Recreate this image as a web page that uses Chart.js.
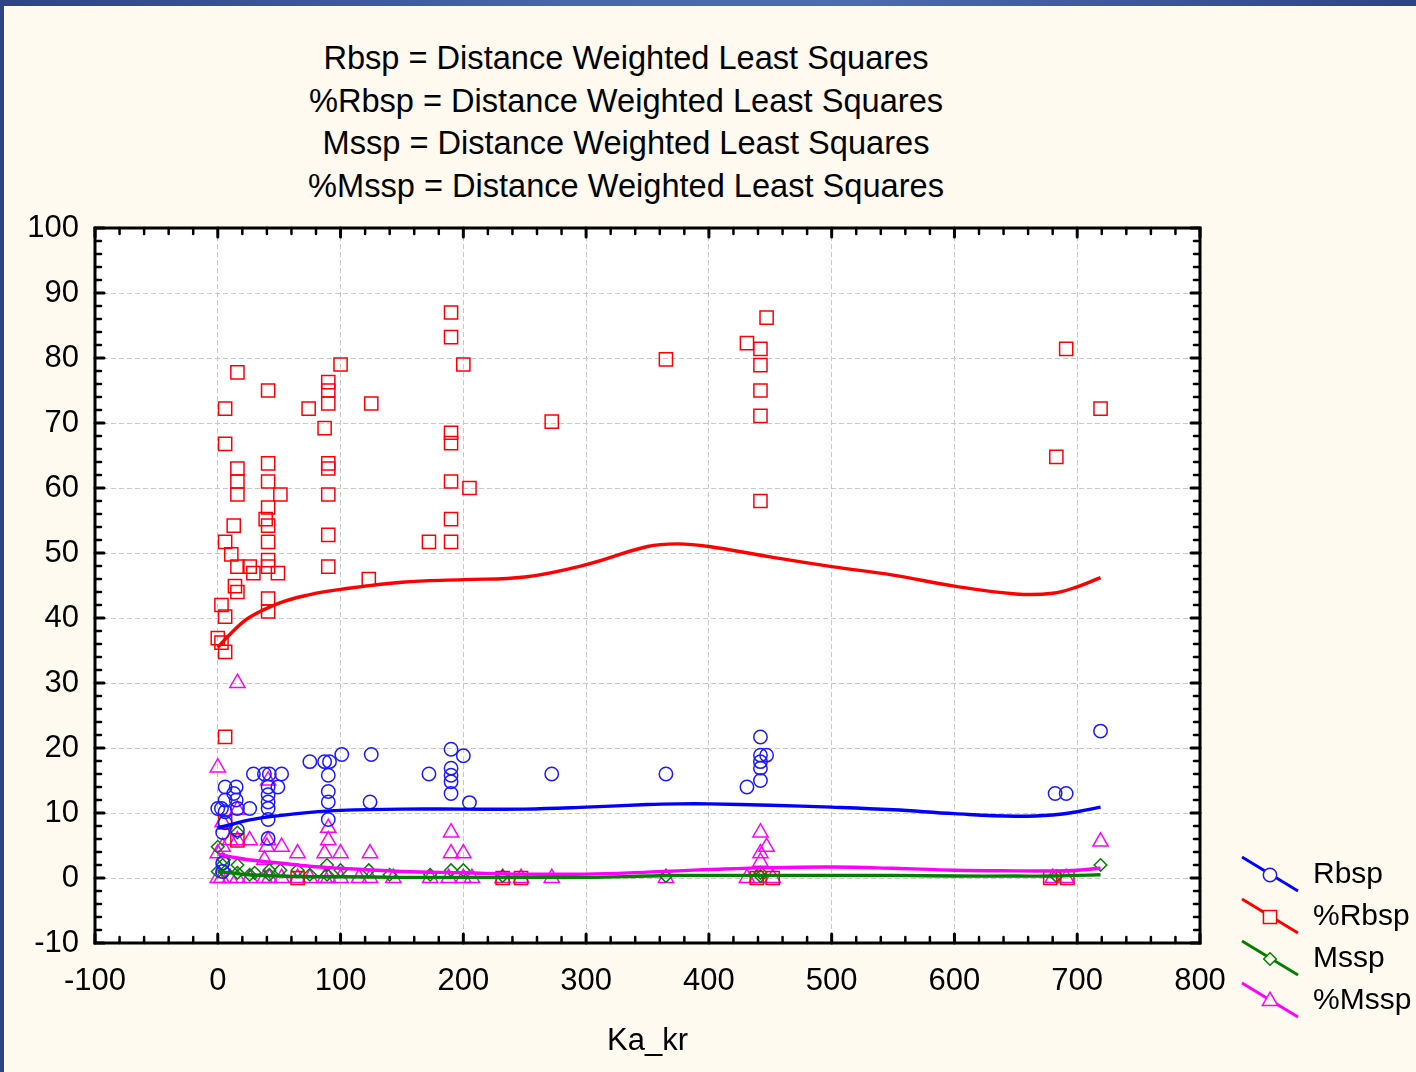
<!DOCTYPE html>
<html>
<head>
<meta charset="utf-8">
<script src="https://cdn.jsdelivr.net/npm/chart.js@4.4.0/dist/chart.umd.min.js"></script>
<style>
  html, body { margin: 0; padding: 0; }
  body {
    width: 1416px; height: 1072px; overflow: hidden; position: relative;
    background: linear-gradient(90deg, #2d4484 0%, #4866ac 40%, #4d6bb0 60%, #2d4484 100%);
    font-family: "Liberation Sans", Arial, sans-serif;
  }
  #panel { position: absolute; left: 4px; top: 6px; right: 0; bottom: 0; background: #fffaf0; }
  #titles {
    position: absolute; left: 0; top: 37px; width: 1252px;
    text-align: center; font-size: 32.6px; line-height: 42.6px; color: #000;
  }
  #chart { position: absolute; left: 0; top: 0; }
</style>
</head>
<body>
<div id="panel"></div>
<div id="titles">
  <div>Rbsp = Distance Weighted Least Squares</div>
  <div>%Rbsp = Distance Weighted Least Squares</div>
  <div>Mssp = Distance Weighted Least Squares</div>
  <div>%Mssp = Distance Weighted Least Squares</div>
</div>
<canvas id="chart" width="1416" height="1072"></canvas>
<script>
// --- axis ticks ---
const X_TICKS = [-100, 0, 100, 200, 300, 400, 500, 600, 700, 800];
const Y_TICKS = [-10, 0, 10, 20, 30, 40, 50, 60, 70, 80, 90, 100];

// --- raw points (Ka_kr, value) ---
const rbspX = [0, 3, 6, 6, 6, 15, 13, 15, 16, 26, 4, 6, 16, 4, 4, 29, 38, 42, 52, 41, 49, 41, 41, 41, 41, 41,
  75, 87, 91, 101, 90, 90, 90, 90, 124, 125, 172, 190, 200, 190, 190, 190, 190, 205, 272, 365,
  442, 442, 447, 442, 442, 442, 431, 719, 682, 691];
const rbspY = [10.7, 10.7, 14, 12, 10.2, 14, 13, 12, 10.7, 10.7, 7, 8.5, 7.4, 2.3, 1, 16, 16, 16, 16, 14, 14, 12.8, 11.7, 10.7, 9, 6.1,
  17.9, 17.9, 17.9, 19, 15.8, 13.3, 11.7, 9, 11.7, 19, 16, 19.8, 18.8, 16.9, 15.8, 14.8, 13, 11.6, 16, 16,
  21.7, 18.9, 18.9, 17.9, 16.9, 15, 14, 22.6, 13, 13];

const pctRbspX = [16, 100, 41, 90, 90, 90, 6, 74, 87, 6, 41, 90, 90, 16, 16, 16, 41, 51, 41, 90,
  13, 39, 41, 6, 41, 90, 11, 16, 26, 29, 41, 41, 49, 90, 14, 16, 41, 41, 3, 6, 0, 3, 6, 123, 125,
  190, 190, 200, 190, 190, 190, 205, 190, 172, 190, 272, 365, 431, 442, 447, 442, 442, 442, 442,
  691, 719, 683, 6, 6, 16, 65, 232, 247, 439, 452, 678, 692];
const pctRbspY = [77.8, 79, 75, 76.3, 75, 73, 72.2, 72.2, 69.2, 66.8, 63.8, 63.8, 63, 63, 61, 59, 61, 59, 57, 59,
  54.2, 55.2, 54.2, 51.7, 51.7, 52.8, 49.8, 47.9, 47.9, 46.9, 48.9, 47.9, 46.9, 47.9, 44.9, 44, 43, 41, 42, 40.2, 36.9, 36.2, 34.8, 46, 73,
  87, 83.2, 79, 68.5, 66.9, 61, 60, 55.2, 51.7, 51.7, 70.2, 79.8, 82.3, 81.4, 86.2, 78.9, 75, 71.1, 58,
  81.4, 72.2, 64.8, 21.7, 8.6, 5.8, 0, 0, 0, 0, 0, 0, 0];

const msspX = [0, 5, 16, 4, 16, 30, 42, 51, 65, 89, 100, 123, 190, 200, 442, 719,
  0, 6, 16, 26, 42, 75, 89, 140, 173, 232, 365, 442, 683];
const msspY = [4.8, 2.8, 7, 2, 2, 0.8, 1.2, 1.2, 1.2, 2, 1.2, 1.2, 1.2, 1.2, 0.8, 2,
  1, 1, 0.8, 0.5, 0.5, 0.5, 0.5, 0.5, 0.5, 0.3, 0.3, 0.3, 0.3];

const pctMsspX = [0, 16, 41, 16, 4, 10, 16, 26, 41, 52, 65, 90, 90, 87, 100, 124, 40, 38, 0, 4,
  190, 190, 200, 442, 447, 442, 442, 719,
  0, 3, 10, 16, 26, 38, 42, 52, 65, 75, 87, 90, 100, 115, 124, 143, 173, 188, 200, 207, 232, 247,
  272, 365, 431, 439, 452, 680, 691];
const pctMsspY = [17, 30, 15, 10.5, 8.6, 5.8, 5.8, 5.8, 5.8, 4.8, 3.8, 7.7, 5.8, 3.8, 3.8, 3.8, 4.8, 2.8, 3.8, 4.8,
  7, 3.8, 3.8, 7, 4.8, 3.8, 2.5, 5.6,
  0, 0, 0, 0, 0, 0, 0, 0, 0, 0, 0, 0, 0, 0, 0, 0, 0, 0, 0, 0, 0, 0,
  0, 0, 0, 0, 0, 0, 0];

// --- distance weighted least squares fits ---
const fitX = [0, 10, 25, 50, 75, 100, 150, 200, 250, 300, 350, 375, 400, 450, 500, 550, 600, 650, 680, 700, 719];
const rbspFit = [7.7, 8.2, 8.9, 9.6, 10.1, 10.4, 10.6, 10.6, 10.6, 10.9, 11.3, 11.4, 11.4, 11.2, 10.9, 10.5, 9.9, 9.5, 9.7, 10.2, 10.9];
const pctRbspFit = [35.5, 37.5, 40, 42.3, 43.6, 44.4, 45.5, 45.9, 46.3, 48.2, 51.0, 51.4, 51.0, 49.4, 47.9, 46.6, 44.9, 43.7, 43.8, 44.8, 46.2];
const msspFit = [1.0, 0.8, 0.5, 0.3, 0.2, 0.2, 0.1, 0.1, 0.1, 0.1, 0.3, 0.4, 0.4, 0.4, 0.4, 0.4, 0.3, 0.3, 0.3, 0.4, 0.5];
const pctMsspFit = [3.7, 3.3, 2.8, 2.3, 1.8, 1.5, 1.0, 0.8, 0.6, 0.6, 0.9, 1.1, 1.3, 1.6, 1.7, 1.5, 1.2, 1.1, 1.1, 1.2, 1.5];

const SERIES = [
  { name: "Rbsp", color: "#1a1aff", line: "#0000ff", style: "circle", r: 6.7, xs: rbspX, ys: rbspY, fit: rbspFit },
  { name: "%Rbsp", color: "#ff0000", line: "#ff0000", style: "rect", r: 9.3, xs: pctRbspX, ys: pctRbspY, fit: pctRbspFit },
  { name: "Mssp", color: "#008000", line: "#008000", style: "rectRot", r: 6.3, xs: msspX, ys: msspY, fit: msspFit },
  { name: "%Mssp", color: "#ff00ff", line: "#ff00ff", style: "triangle", r: 8.8, xs: pctMsspX, ys: pctMsspY, fit: pctMsspFit },
];

const pts = (xs, ys) => xs.map((x, i) => ({ x, y: ys[i] }));

const datasets = [];
SERIES.forEach(s => {
  datasets.push({
    label: s.name,
    data: pts(s.xs, s.ys),
    pointStyle: s.style,
    pointRadius: s.r,
    pointBorderWidth: 1.5,
    pointBorderColor: s.color,
    pointBackgroundColor: "rgba(0,0,0,0)",
    showLine: false,
    order: 2,
  });
});
SERIES.forEach(s => {
  datasets.push({
    label: s.name + " fit",
    data: pts(fitX, s.fit),
    showLine: true,
    borderColor: s.line,
    borderWidth: 3.4,
    pointRadius: 0,
    tension: 0.4,
    fill: false,
    order: 1,
  });
});

const BG = "#fffaf0";
const FONT = "'Liberation Sans', Arial, sans-serif";

// white plot background, frame with inward ticks, custom legend
const framePlugin = {
  id: "frame",
  beforeDraw(chart) {
    const a = chart.chartArea, c = chart.ctx;
    c.save();
    c.fillStyle = "#ffffff";
    c.fillRect(a.left, a.top, a.right - a.left, a.bottom - a.top);
    c.restore();
  },
  afterDraw(chart) {
    const a = chart.chartArea, c = chart.ctx;
    const xs = chart.scales.x, ys = chart.scales.y;
    c.save();
    c.strokeStyle = "#000";
    c.lineWidth = 3;
    c.strokeRect(a.left, a.top, a.right - a.left, a.bottom - a.top);
    c.lineCap = "round";
    for (let v = -100; v <= 800; v += 20) {
      const major = v % 100 === 0;
      const px = xs.getPixelForValue(v), len = major ? 9 : 6;
      c.lineWidth = major ? 3 : 2.5;
      c.beginPath();
      c.moveTo(px, a.bottom); c.lineTo(px, a.bottom - len);
      c.moveTo(px, a.top); c.lineTo(px, a.top + len);
      c.stroke();
    }
    for (let v = -10; v <= 100; v += 2) {
      const major = v % 10 === 0;
      const py = ys.getPixelForValue(v), len = major ? 9 : 6;
      c.lineWidth = major ? 3 : 2.5;
      c.beginPath();
      c.moveTo(a.left, py); c.lineTo(a.left + len, py);
      c.moveTo(a.right, py); c.lineTo(a.right - len, py);
      c.stroke();
    }

    // legend
    c.lineCap = "butt";
    SERIES.forEach((s, i) => {
      const cy = 875 + 42 * i, cx = 1270;
      c.strokeStyle = s.line;
      c.lineWidth = 3;
      c.beginPath();
      c.moveTo(cx - 28, cy - 18);
      c.lineTo(cx + 28, cy + 16);
      c.stroke();
      c.fillStyle = BG;
      c.strokeStyle = s.color;
      c.lineWidth = 1.5;
      Chart.helpers.drawPoint(c, { pointStyle: s.style, radius: s.r, rotation: 0, borderWidth: 1.5 }, cx, cy);
      c.fillStyle = "#000";
      c.font = "30px " + FONT;
      c.textBaseline = "middle";
      c.textAlign = "left";
      c.fillText(s.name, 1313, cy);
    });
    c.restore();
  }
};

const tickFont = { family: FONT, size: 31 };

new Chart(document.getElementById("chart"), {
  type: "scatter",
  data: { datasets },
  options: {
    responsive: false,
    animation: false,
    layout: { padding: { left: 0, right: 216, top: 228, bottom: 0 } },
    plugins: { legend: { display: false }, tooltip: { enabled: false }, title: { display: false } },
    scales: {
      x: {
        type: "linear", min: X_TICKS[0], max: X_TICKS[X_TICKS.length - 1],
        afterBuildTicks: s => { s.ticks = X_TICKS.map(v => ({ value: v })); },
        afterFit: s => { s.height = 129; },
        ticks: { color: "#000", font: tickFont, padding: 20, maxRotation: 0 },
        grid: { color: "#c8c8c8", lineWidth: 1, drawTicks: false },
        border: { display: false, dash: [5, 3] },
        title: { display: true, text: "Ka_kr", color: "#000", font: tickFont, padding: { top: 0, bottom: 12 } },
      },
      y: {
        type: "linear", min: Y_TICKS[0], max: Y_TICKS[Y_TICKS.length - 1],
        afterBuildTicks: s => { s.ticks = Y_TICKS.map(v => ({ value: v })); },
        afterFit: s => { s.width = 95; },
        ticks: { color: "#000", font: tickFont, padding: 16 },
        grid: { color: "#c8c8c8", lineWidth: 1, drawTicks: false },
        border: { display: false, dash: [5, 3] },
      },
    },
  },
  plugins: [framePlugin],
});
</script>
</body>
</html>
